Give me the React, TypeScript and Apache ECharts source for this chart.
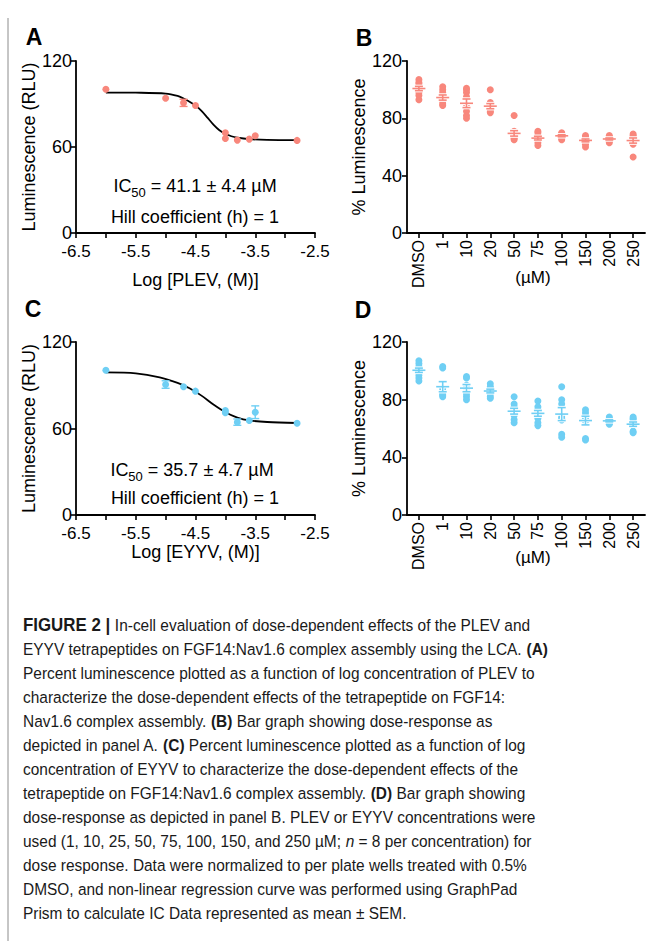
import React, { useEffect, useRef } from "react";
import * as echarts from "echarts";

const FONT = "Liberation Sans";
const PINK = "#f8877c";
const BLUE = "#6fcff4";

// Panel A – PLEV dose response (log M vs luminescence)
const plevLog = [-6.0, -5.0, -4.7, -4.5, -4.0, -4.0, -3.8, -3.6, -3.5, -2.8];
const plevLum = [100.3, 94.0, 90.8, 88.9, 69.9, 65.9, 64.8, 65.5, 67.8, 64.6];
const plevErr = [0, 0, 2.5, 0, 0, 0, 0, 0, 0, 0];
const plevFitLog = [-6.0, -5.5, -5.0, -4.8, -4.7, -4.6, -4.5, -4.4, -4.3, -4.2, -4.1, -4.0, -3.9, -3.8, -3.6, -3.3, -2.8];
const plevFitLum = [98.0, 97.9, 97.3, 95.6, 93.8, 91.6, 88.9, 85.2, 80.5, 75.6, 71.7, 69.2, 67.5, 66.5, 65.5, 65.0, 64.8];

// Panel C – EYYV dose response
const eyyvLog = [-6.0, -5.0, -4.7, -4.5, -4.0, -4.0, -3.8, -3.6, -3.5, -2.8];
const eyyvLum = [100.4, 90.5, 88.9, 85.9, 72.5, 71.0, 64.4, 65.6, 71.3, 63.7];
const eyyvErr = [0, 2.6, 0, 0, 0, 0, 2.2, 0, 4.4, 0];
const eyyvFitLog = [-6.0, -5.5, -5.1, -4.8, -4.6, -4.4, -4.2, -4.0, -3.8, -3.6, -3.3, -2.8];
const eyyvFitLum = [98.9, 98.3, 95.5, 91.6, 87.9, 82.8, 76.6, 71.3, 67.6, 65.6, 64.5, 63.8];

// Panels B & D – concentrations (µM)
const doseCats = ["DMSO", "1", "10", "20", "50", "75", "100", "150", "200", "250"];

const plevDots = [
  [107, 105, 104, 102, 100, 98, 96, 93],
  [102, 100, 98, 96, 94, 92, 90, 89],
  [101, 100, 98, 95, 88, 85, 82, 80],
  [100, 91, 90, 89, 88, 86, 85, 84],
  [82, 71, 70, 69, 68, 67, 66, 65],
  [71, 70, 68, 67, 66, 65, 63, 61],
  [70, 69, 69, 68, 68, 67, 66, 65],
  [68, 67, 66, 65, 64, 63, 62, 60],
  [68, 67, 66, 66, 65, 65, 64, 63],
  [69, 68, 67, 66, 65, 64, 62, 53],
];
const plevMean = [100.8, 94.5, 90.5, 88.5, 69.5, 66.2, 67.8, 64.6, 65.6, 64.5];
const plevSem = [1.5, 1.8, 3.0, 1.8, 1.9, 1.3, 0.7, 1.0, 0.7, 1.8];

const eyyvDots = [
  [107, 105, 103, 101, 99, 97, 95, 93],
  [103, 102, 88, 86, 85, 84, 83, 82],
  [96, 95, 90, 88, 86, 84, 82, 80],
  [91, 89, 88, 87, 86, 84, 82, 81],
  [82, 77, 75, 73, 71, 69, 66, 64],
  [79, 75, 73, 71, 69, 67, 64, 62],
  [89, 80, 77, 68, 67, 66, 56, 54],
  [73, 71, 69, 67, 66, 65, 53, 52],
  [68, 67, 66, 65, 65, 64, 64, 63],
  [68, 67, 66, 64, 63, 62, 58, 57],
];
const eyyvMean = [100.4, 89.0, 88.0, 86.0, 72.0, 70.5, 70.0, 65.5, 65.3, 63.0];
const eyyvSem = [1.5, 3.5, 2.5, 1.3, 2.0, 2.0, 4.5, 3.0, 0.7, 1.5];

const captionLines = [
  "{h|FIGURE 2 | }In-cell evaluation of dose-dependent effects of the PLEV and",
  "EYYV tetrapeptides on FGF14:Nav1.6 complex assembly using the LCA. {b|(A)}",
  "Percent luminescence plotted as a function of log concentration of PLEV to",
  "characterize the dose-dependent effects of the tetrapeptide on FGF14:",
  "Nav1.6 complex assembly. {b|(B)} Bar graph showing dose-response as",
  "depicted in panel A. {b|(C)} Percent luminescence plotted as a function of log",
  "concentration of EYYV to characterize the dose-dependent effects of the",
  "tetrapeptide on FGF14:Nav1.6 complex assembly. {b|(D)} Bar graph showing",
  "dose-response as depicted in panel B. PLEV or EYYV concentrations were",
  "used (1, 10, 25, 50, 75, 100, 150, and 250 µM; {i|n} = 8 per concentration) for",
  "dose response. Data were normalized to per plate wells treated with 0.5%",
  "DMSO, and non-linear regression curve was performed using GraphPad",
  "Prism to calculate IC Data represented as mean ± SEM.",
];

const zip = (a: number[], b: number[]) => a.map((v, i) => [v, b[i]]);

function measure(text: string, font: string): number {
  const c = document.createElement("canvas").getContext("2d");
  if (!c) return 600;
  c.font = font;
  return c.measureText(text).width;
}

const line = (x1: number, y1: number, x2: number, y2: number, w: number, col: string) => ({
  type: "line",
  shape: { x1, y1, x2, y2 },
  style: { stroke: col, lineWidth: w },
});

const errItem = (color: string) => (params: any, api: any) => {
  const x = api.value(0), m = api.value(1), e = api.value(2);
  const hi = api.coord([x, m + e]);
  const lo = api.coord([x, m - e]);
  return {
    type: "group",
    children: [
      line(hi[0], hi[1], lo[0], lo[1], 1.4, color),
      line(hi[0] - 4, hi[1], hi[0] + 4, hi[1], 1.4, color),
      line(lo[0] - 4, lo[1], lo[0] + 4, lo[1], 1.4, color),
    ],
  };
};

const meanItem = (color: string) => (params: any, api: any) => {
  const c = api.value(0), m = api.value(1), s = api.value(2);
  const p = api.coord([c, m]);
  const hi = api.coord([c, m + s]);
  const lo = api.coord([c, m - s]);
  const children: any[] = [];
  const passes: [string, number][] = [["#ffffff", 3.4], [color, 1.6]];
  for (const [col, w] of passes) {
    children.push(line(p[0] - 6.5, p[1], p[0] + 6.5, p[1], w, col));
    children.push(line(p[0] - 4, hi[1], p[0] + 4, hi[1], w, col));
    children.push(line(p[0] - 4, lo[1], p[0] + 4, lo[1], w, col));
    children.push(line(p[0], hi[1], p[0], lo[1], w, col));
  }
  return { type: "group", children };
};

const axisLine = { show: true, onZero: false, lineStyle: { color: "#000", width: 1.8 } };
const axisTick = { show: true, length: 5, lineStyle: { color: "#000", width: 1.6 } };

const yAx = (gi: number, interval: number, name: string, nameGap: number, margin: number) => ({
  type: "value",
  gridIndex: gi,
  min: 0,
  max: 120,
  interval,
  axisLine,
  axisTick,
  splitLine: { show: false },
  axisLabel: { fontSize: 18, color: "#000", margin, fontFamily: FONT },
  name,
  nameLocation: "middle",
  nameGap,
  nameTextStyle: { fontSize: 18, color: "#000", fontFamily: FONT },
});

const isWhole = (v: number) => Math.abs(v - Math.round(v)) < 1e-6;

const logAx = (gi: number, name: string, nameGap: number, margin: number) => ({
  type: "value",
  gridIndex: gi,
  min: -6.5,
  max: -2.5,
  interval: 0.5,
  axisLine,
  axisTick,
  splitLine: { show: false },
  axisLabel: {
    fontSize: 17,
    color: "#000",
    margin,
    fontFamily: FONT,
    formatter: (v: number) => (isWhole(v + 6.5) ? v.toFixed(1) : ""),
  },
  name,
  nameLocation: "middle",
  nameGap,
  nameTextStyle: { fontSize: 18, color: "#000", fontFamily: FONT },
});

const catAx = (gi: number) => ({
  type: "category",
  gridIndex: gi,
  data: doseCats,
  boundaryGap: true,
  axisLine,
  axisTick: { ...axisTick, alignWithLabel: true },
  axisLabel: { fontSize: 16, color: "#000", margin: 7, rotate: 90, interval: 0, fontFamily: FONT },
});

const dotsData = (dots: number[][]) => dots.flatMap((arr, i) => arr.map((v) => [i, v]));
const meanData = (mean: number[], sem: number[]) => mean.map((m, i) => [i, m, sem[i]]);
const errData = (xs: number[], ys: number[], es: number[]) =>
  xs.map((x, i) => [x, ys[i], es[i]]).filter((d) => d[2] > 0);

export default function App() {
  const ref = useRef<HTMLDivElement>(null);
  useEffect(() => {
    document.body.style.margin = "0";
    if (!ref.current) return;
    const chart = echarts.init(ref.current, undefined, { renderer: "svg" });

    const capSize = 16.5;
    const capScale = 512 / measure(captionLines[2], `${capSize}px "${FONT}"`);
    const capTop = 625;
    const capStep = 24.05;
    const capColor = "#1a1a1a";

    const text = (x: number, y: number, t: string, size: number, extra: any = {}) => ({
      type: "text",
      x,
      y,
      style: { text: t, fontSize: size, fontFamily: FONT, fill: "#000", textAlign: "center", textVerticalAlign: "middle", ...extra },
    });

    const icRich = {
      n: { fontSize: 18, fontFamily: FONT, fill: "#000", lineHeight: 26, verticalAlign: "middle" },
      s: { fontSize: 13, fontFamily: FONT, fill: "#000", lineHeight: 26, verticalAlign: "bottom" },
    };

    const graphics: any[] = [
      { type: "line", shape: { x1: 8, y1: 18, x2: 8, y2: 941 }, style: { stroke: "#8c8c8c", lineWidth: 1 } },
      text(34, 37, "A", 23, { fontWeight: "bold" }),
      text(364, 38, "B", 23, { fontWeight: "bold" }),
      text(33, 309, "C", 23, { fontWeight: "bold" }),
      text(363, 310, "D", 23, { fontWeight: "bold" }),
      text(195, 186, "{n|IC}{s|50}{n| = 41.1 ± 4.4 µM}", 18, { rich: icRich }),
      text(195, 217, "Hill coefficient (h) = 1", 18),
      text(192, 470, "{n|IC}{s|50}{n| = 35.7 ± 4.7 µM}", 18, { rich: icRich }),
      text(195, 498, "Hill coefficient (h) = 1", 18),
      text(533, 277, "(µM)", 17),
      text(533, 557, "(µM)", 17),
    ];
    captionLines.forEach((t, i) => {
      graphics.push({
        type: "text",
        x: 23,
        y: capTop + i * capStep,
        scaleX: capScale,
        style: {
          text: t,
          fontSize: capSize,
          fontFamily: FONT,
          fill: capColor,
          textAlign: "left",
          textVerticalAlign: "middle",
          rich: {
            h: { fontSize: capSize + 1.5, fontFamily: FONT, fontWeight: "bold", fill: capColor },
            b: { fontSize: capSize, fontFamily: FONT, fontWeight: "bold", fill: capColor },
            i: { fontSize: capSize, fontFamily: FONT, fontStyle: "italic", fill: capColor },
          },
        },
      });
    });

    chart.setOption({
      animation: false,
      backgroundColor: "#ffffff",
      textStyle: { fontFamily: FONT },
      grid: [
        { left: 76, top: 61, width: 239, height: 172 },
        { left: 407, top: 61, width: 238, height: 172 },
        { left: 76, top: 342, width: 239, height: 173 },
        { left: 407, top: 342, width: 238, height: 173 },
      ],
      xAxis: [
        logAx(0, "Log [PLEV, (M)]", 38, 10),
        catAx(1),
        logAx(2, "Log [EYYV, (M)]", 28, 10),
        catAx(3),
      ],
      yAxis: [
        yAx(0, 60, "Luminescence (RLU)", 33, 4),
        yAx(1, 40, "% Luminescence", 34, 5),
        yAx(2, 60, "Luminescence (RLU)", 33, 4),
        yAx(3, 40, "% Luminescence", 34, 5),
      ],
      series: [
        {
          type: "line", xAxisIndex: 0, yAxisIndex: 0, data: zip(plevFitLog, plevFitLum),
          showSymbol: false, smooth: 0.3, lineStyle: { color: "#000", width: 1.8 }, z: 2,
        },
        {
          type: "custom", xAxisIndex: 0, yAxisIndex: 0, data: errData(plevLog, plevLum, plevErr),
          renderItem: errItem(PINK), encode: { x: 0, y: 1 }, z: 3,
        },
        {
          type: "scatter", xAxisIndex: 0, yAxisIndex: 0, data: zip(plevLog, plevLum),
          symbolSize: 7, itemStyle: { color: PINK, opacity: 1 }, z: 4,
        },
        {
          type: "scatter", xAxisIndex: 1, yAxisIndex: 1, data: dotsData(plevDots),
          symbolSize: 7, itemStyle: { color: PINK, opacity: 1 }, z: 3,
        },
        {
          type: "custom", xAxisIndex: 1, yAxisIndex: 1, data: meanData(plevMean, plevSem),
          renderItem: meanItem(PINK), encode: { x: 0, y: 1 }, z: 4,
        },
        {
          type: "line", xAxisIndex: 2, yAxisIndex: 2, data: zip(eyyvFitLog, eyyvFitLum),
          showSymbol: false, smooth: 0.3, lineStyle: { color: "#000", width: 1.8 }, z: 2,
        },
        {
          type: "custom", xAxisIndex: 2, yAxisIndex: 2, data: errData(eyyvLog, eyyvLum, eyyvErr),
          renderItem: errItem(BLUE), encode: { x: 0, y: 1 }, z: 3,
        },
        {
          type: "scatter", xAxisIndex: 2, yAxisIndex: 2, data: zip(eyyvLog, eyyvLum),
          symbolSize: 7, itemStyle: { color: BLUE, opacity: 1 }, z: 4,
        },
        {
          type: "scatter", xAxisIndex: 3, yAxisIndex: 3, data: dotsData(eyyvDots),
          symbolSize: 7, itemStyle: { color: BLUE, opacity: 1 }, z: 3,
        },
        {
          type: "custom", xAxisIndex: 3, yAxisIndex: 3, data: meanData(eyyvMean, eyyvSem),
          renderItem: meanItem(BLUE), encode: { x: 0, y: 1 }, z: 4,
        },
      ],
      graphic: graphics,
    });
    return () => chart.dispose();
  }, []);
  return <div ref={ref} style={{ width: 651, height: 941 }} />;
}
